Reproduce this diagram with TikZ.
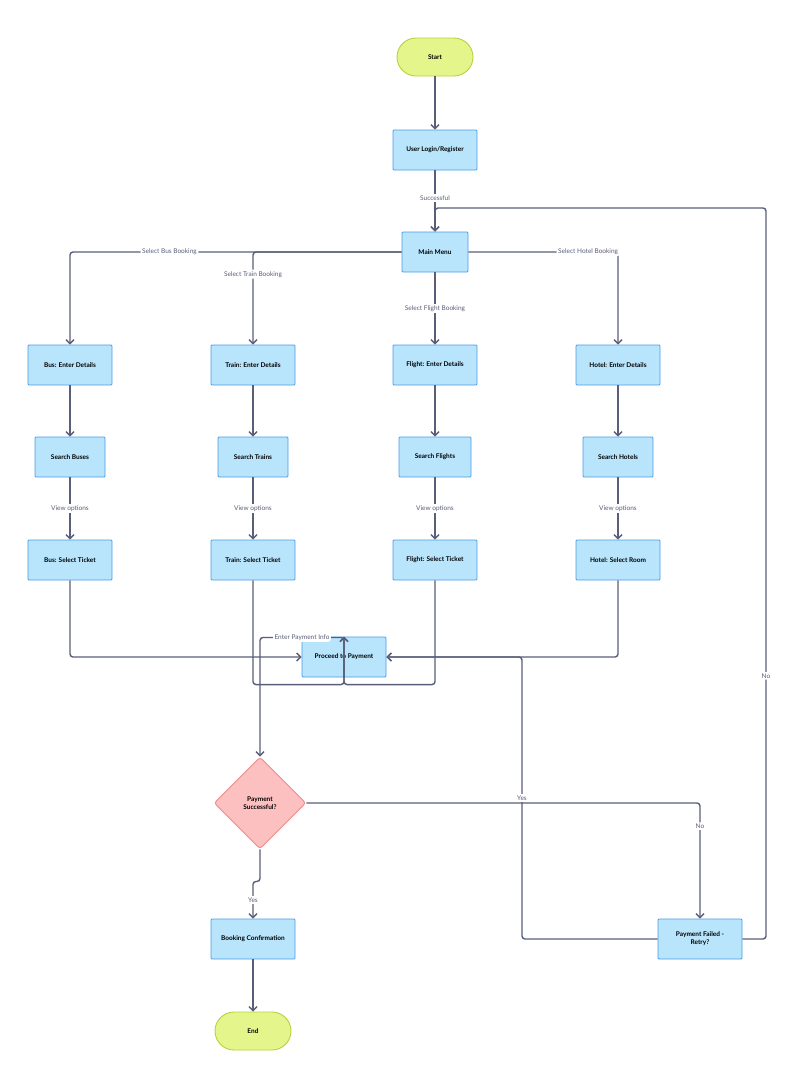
\documentclass[tikz,border=0pt]{standalone}
\usepackage{fontspec}
\setmainfont{Lato}
\usetikzlibrary{arrows.meta,shapes.geometric}
\definecolor{boxfill}{HTML}{B8E4FC}
\definecolor{boxline}{HTML}{4A9EE8}
\definecolor{termfill}{HTML}{E4F58C}
\definecolor{termline}{HTML}{B4D43C}
\definecolor{decfill}{HTML}{FDC0C0}
\definecolor{decline}{HTML}{EE8A8A}
\definecolor{wire}{HTML}{5A5E78}
\tikzset{
  box/.style={draw=boxline,fill=boxfill,line width=0.9pt,minimum width=84pt,minimum height=40pt,
    font=\fontsize{6.5}{8}\selectfont\bfseries,align=center,rounded corners=1pt},
  term/.style={draw=termline,fill=termfill,line width=0.9pt,minimum width=76pt,minimum height=38pt,
    rounded corners=19pt,font=\fontsize{6.5}{8}\selectfont\bfseries},
  dec/.style={diamond,draw=decline,fill=decfill,line width=0.9pt,minimum width=92pt,minimum height=92pt,
    font=\fontsize{6.5}{8}\selectfont\bfseries,align=center,inner sep=0pt,rounded corners=3pt},
  flow/.style={draw=wire,line width=1.4pt,-{Straight Barb[length=4pt,width=8pt]},rounded corners=3pt},
  lbl/.style={fill=white,text=wire,font=\fontsize{6.5}{8}\selectfont,inner sep=1.5pt}
}
\begin{document}
\begin{tikzpicture}[x=1pt,y=-1pt]
  \useasboundingbox[fill=white] (0,0) rectangle (801,1080);

  % terminals and steps
  \node[term] (start) at (435,57) {Start};
  \node[box] (login) at (435,150) {User Login/Register};
  \node[box,minimum width=66pt] (menu) at (435,252) {Main Menu};

  \node[box] (busin) at (70,365) {Bus: Enter Details};
  \node[box] (trainin) at (253,365) {Train: Enter Details};
  \node[box] (flightin) at (435,365) {Flight: Enter Details};
  \node[box] (hotelin) at (618,365) {Hotel: Enter Details};

  \node[box,minimum width=70pt] (bussearch) at (70,457) {Search Buses};
  \node[box,minimum width=70pt] (trainsearch) at (253,457) {Search Trains};
  \node[box,minimum width=72pt] (flightsearch) at (435,457) {Search Flights};
  \node[box,minimum width=70pt] (hotelsearch) at (618,457) {Search Hotels};

  \node[box] (bussel) at (70,560) {Bus: Select Ticket};
  \node[box] (trainsel) at (253,560) {Train: Select Ticket};
  \node[box] (flightsel) at (435,560) {Flight: Select Ticket};
  \node[box] (hotelsel) at (618,560) {Hotel: Select Room};

  \node[box] (pay) at (344,657) {Proceed to Payment};
  \node[dec] (check) at (260,803) {Payment\\Successful?};
  \node[box] (confirm) at (253,939) {Booking Confirmation};
  \node[term] (end) at (253,1031) {End};
  \node[box] (failed) at (700,939) {Payment Failed -\\Retry?};

  \coordinate (retryjoin) at (522,657);
  \coordinate (noright) at (766,208);

  % connectors
  \draw[flow] (start) -- (login);
  \draw[flow] (login) -- node[lbl,pos=0.45] {Successful} (menu);
  \draw[flow] (menu.west) -| node[lbl,pos=0.35] {Select Bus Booking} (busin.north);
  \draw[flow] (menu.west) -| node[lbl,pos=0.62] {Select Train Booking} (trainin.north);
  \draw[flow] (menu) -- node[lbl] {Select Flight Booking} (flightin);
  \draw[flow] (menu.east) -| node[lbl,pos=0.4] {Select Hotel Booking} (hotelin.north);

  \foreach \k in {bus,train,flight,hotel}{
    \draw[flow] (\k in) -- (\k search);
    \draw[flow] (\k search) -- node[lbl] {View options} (\k sel);
  }

  \draw[flow] (bussel.south) |- (pay.west);
  \draw[flow] (trainsel.south) |- ([yshift=-48pt]pay.north) -- (pay.north);
  \draw[flow] (flightsel.south) |- ([yshift=-48pt]pay.north) -- (pay.north);
  \draw[flow] (hotelsel.south) |- (pay.east);

  \draw[flow] (pay.south) |- node[lbl,pos=0.75] {Enter Payment Info} ([yshift=40pt]pay.south -| check.north) -- (check.north);
  \draw[flow] (check.east) -| node[lbl,pos=0.6] {No} (failed.north);
  \draw[flow] (check.south) -- ++(0,32) -| node[lbl,pos=0.75] {Yes} (confirm.north);
  \draw[flow] (confirm) -- (end);
  \draw[flow] (failed.west) -| node[lbl,pos=0.75] {Yes} (retryjoin) -- (pay.east);
  \draw[flow] (failed.east) -| node[lbl,pos=0.68] {No} (noright) -| (menu.north);
\end{tikzpicture}
\end{document}
